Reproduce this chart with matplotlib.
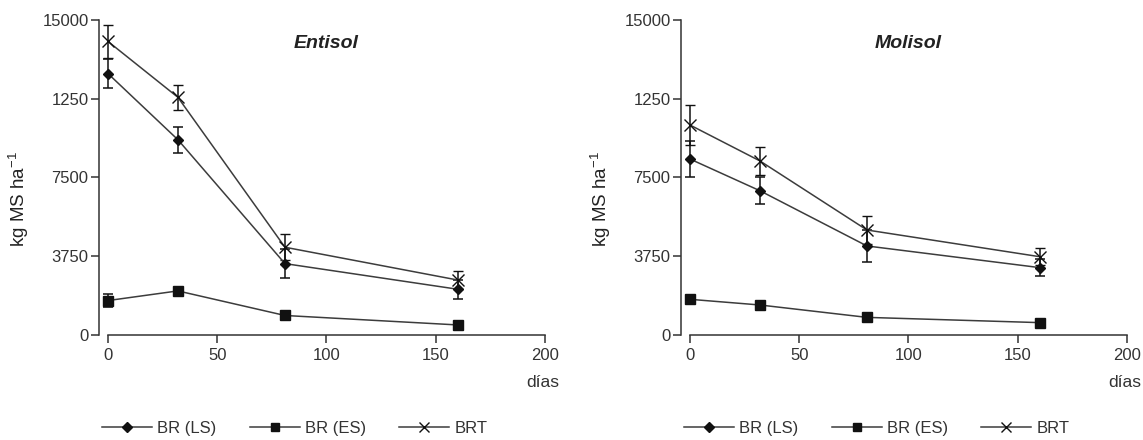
import matplotlib.pyplot as plt

plt.rcParams['font.family'] = ['Liberation Sans', 'DejaVu Sans']
plt.rcParams['mathtext.default'] = 'regular'

dias = [0, 32, 81, 160]

# Entisol
ent_ls = [12450, 9300, 3400, 2180]
ent_ls_err = [680, 620, 700, 450]
ent_es = [1640, 2100, 930, 480]
ent_es_err = [300, 120, 100, 80]
ent_brt = [13980, 11320, 4180, 2620]
ent_brt_err = [780, 600, 620, 440]

# Molisol
mol_ls = [8380, 6870, 4240, 3210]
mol_ls_err = [880, 630, 740, 400]
mol_es = [1700, 1430, 840, 590]
mol_es_err = [100, 90, 80, 60]
mol_brt = [10000, 8290, 5000, 3730]
mol_brt_err = [960, 650, 680, 400]

yticks = [0, 3750, 7500, 11250, 15000]
ytick_labels = ['0', '3750', '7500', '1250', '15000']
xticks = [0, 50, 100, 150, 200]

line_col = '#3c3c3c'
mk_col = '#111111'

fig = plt.figure(figsize=(11.43, 4.4), dpi=100)
ax1 = fig.add_axes([0.0866, 0.2386, 0.3902, 0.716])
ax2 = fig.add_axes([0.5958, 0.2386, 0.3902, 0.716])

paineis = [
    (ax1, 'Entisol', ent_ls, ent_ls_err, ent_es, ent_es_err, ent_brt, ent_brt_err),
    (ax2, 'Molisol', mol_ls, mol_ls_err, mol_es, mol_es_err, mol_brt, mol_brt_err),
]

for ax, titulo, ls, ls_err, es, es_err, brt, brt_err in paineis:
    estilo = dict(color=line_col, linewidth=1.1, ecolor=mk_col, elinewidth=1.1,
                  capsize=3.5, capthick=1.1, markerfacecolor=mk_col,
                  markeredgecolor=mk_col, clip_on=False)
    c1 = ax.errorbar(dias, ls, yerr=ls_err, marker='D', markersize=5.5, label='BR (LS)', **estilo)
    c2 = ax.errorbar(dias, es, yerr=es_err, marker='s', markersize=6.5, label='BR (ES)', **estilo)
    c3 = ax.errorbar(dias, brt, yerr=brt_err, marker='x', markersize=9, markeredgewidth=1.0,
                     label='BRT', **estilo)

    ax.set_xlim(-4.1, 200)
    ax.set_ylim(0, 15000)
    ax.set_xticks(xticks)
    ax.set_yticks(yticks)
    ax.set_yticklabels(ytick_labels)
    for s in ['top', 'right']:
        ax.spines[s].set_visible(False)
    ax.spines['left'].set_bounds(0, 15000)
    ax.spines['bottom'].set_bounds(0, 200)
    for s in ['left', 'bottom']:
        ax.spines[s].set_color('#333333')
        ax.spines[s].set_linewidth(1.1)
    ax.tick_params(axis='both', length=6, width=1.1, color='#333333',
                   labelsize=12, labelcolor='#333333', pad=1.5)
    ax.tick_params(axis='x', pad=3)

    ax.set_ylabel('kg MS ha$^{-1}$', fontsize=13.5, color='#222222')
    ax.yaxis.set_label_coords(-0.152, 0.43)
    ax.text(100, 13900, titulo, fontsize=14, fontweight='bold', fontstyle='italic',
            ha='center', va='center', color='#222222')
    ax.text(199, -2250, 'días', fontsize=12.5, ha='center', va='center', color='#333333')

    leg = ax.legend(handles=[c1[0], c2[0], c3[0]], labels=['BR (LS)', 'BR (ES)', 'BRT'],
                    loc='center left', bbox_to_anchor=(0.007, -0.297), ncol=3,
                    frameon=False, fontsize=12, handlelength=3.0, handletextpad=0.3,
                    columnspacing=2.0, borderpad=0, borderaxespad=0, markerscale=0.85)
    for t in leg.get_texts():
        t.set_color('#333333')

fig.savefig('out.png', dpi=100)
